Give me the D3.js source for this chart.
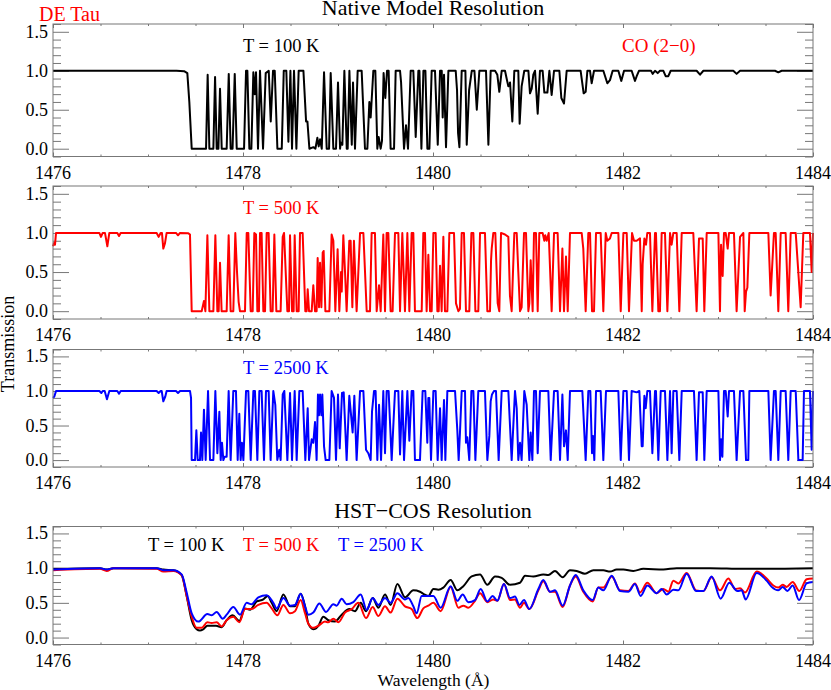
<!DOCTYPE html>
<html>
<head>
<meta charset="utf-8">
<script src="https://cdn.jsdelivr.net/npm/d3@7"></script>
<style>
  html, body { margin: 0; padding: 0; background: #fff; }
  text { font-family: "Liberation Serif", serif; }
</style>
</head>
<body>
<main></main>
<script>
// [wavelength, transmission]
const native100 = [[1476,1],[1477.3,1],[1477.38,.995],[1477.414,.97],[1477.435,.6],[1477.46,0],[1477.611,0],[1477.628,.95],[1477.646,0],[1477.688,0],[1477.706,.92],[1477.723,0],[1477.741,0],[1477.758,.77],[1477.776,0],[1477.828,0],[1477.85,.96],[1477.87,0],[1477.89,0],[1477.913,.96],[1477.934,0],[1478.011,0],[1478.032,1],[1478.046,1],[1478.067,0],[1478.088,0],[1478.109,.98],[1478.123,.7],[1478.137,.98],[1478.158,0],[1478.179,1],[1478.211,0],[1478.239,.97],[1478.271,1],[1478.292,.35],[1478.316,1],[1478.334,1],[1478.362,0],[1478.408,0],[1478.429,1],[1478.456,1],[1478.478,.09],[1478.499,1],[1478.516,0],[1478.537,1],[1478.562,0],[1478.586,1],[1478.636,1],[1478.664,.35],[1478.678,.35],[1478.699,0],[1478.741,.02],[1478.762,0],[1478.783,.14],[1478.797,.03],[1478.811,.12],[1478.829,0],[1478.853,.98],[1478.881,0],[1478.906,0],[1478.923,.97],[1478.951,0],[1478.979,0],[1479,.85],[1479.022,0],[1479.029,.08],[1479.046,.05],[1479.067,1],[1479.092,0],[1479.102,0],[1479.12,1],[1479.145,.05],[1479.158,.85],[1479.179,0],[1479.207,1],[1479.249,1],[1479.284,0],[1479.309,0],[1479.33,.6],[1479.344,.4],[1479.372,1],[1479.393,1],[1479.414,0],[1479.428,.15],[1479.449,0],[1479.463,.1],[1479.48,.97],[1479.498,.65],[1479.516,1],[1479.533,1],[1479.554,0],[1479.59,0],[1479.607,1],[1479.653,1],[1479.664,.85],[1479.695,0],[1479.716,.3],[1479.737,0],[1479.765,1],[1479.793,1],[1479.818,.15],[1479.846,1],[1479.857,1],[1479.878,0],[1479.899,1],[1479.92,1],[1479.941,0],[1479.962,0],[1479.986,1],[1480.021,1],[1480.05,.05],[1480.074,1],[1480.092,1],[1480.102,.4],[1480.116,.95],[1480.137,.02],[1480.162,1],[1480.239,1],[1480.253,.75],[1480.264,.2],[1480.278,.02],[1480.302,1],[1480.341,1],[1480.355,.05],[1480.38,.75],[1480.408,1],[1480.436,1],[1480.461,.5],[1480.488,1],[1480.558,1],[1480.583,.05],[1480.607,1],[1480.653,1],[1480.677,.95],[1480.698,.73],[1480.723,1],[1480.758,1],[1480.775,.9],[1480.793,.8],[1480.811,.85],[1480.835,.35],[1480.856,1],[1480.898,1],[1480.912,.32],[1480.933,.8],[1480.961,1],[1481.004,1],[1481.021,.71],[1481.039,.77],[1481.056,.95],[1481.074,1],[1481.102,.45],[1481.126,1],[1481.154,1],[1481.172,.72],[1481.204,.72],[1481.225,1],[1481.249,.69],[1481.274,1],[1481.33,1],[1481.351,.65],[1481.379,.58],[1481.407,1],[1481.554,1],[1481.586,.71],[1481.607,.73],[1481.625,1],[1481.653,1],[1481.67,.84],[1481.695,1],[1481.793,1],[1481.835,.84],[1481.863,.88],[1481.891,1],[1481.951,1],[1481.982,.87],[1482.011,1],[1482.091,1],[1482.126,.87],[1482.144,.93],[1482.168,1],[1482.295,1],[1482.312,.96],[1482.337,1],[1482.365,.97],[1482.389,1],[1482.425,1],[1482.449,.93],[1482.477,.93],[1482.502,1],[1482.775,1],[1482.811,.95],[1482.846,1],[1483.161,1],[1483.196,.96],[1483.232,1],[1483.6,1],[1483.635,.98],[1483.67,1],[1484,1]];

const native500 = [[1476,.83],[1476.011,.87],[1476.021,.85],[1476.032,1],[1476.488,1],[1476.505,.95],[1476.523,1],[1476.547,1],[1476.572,.83],[1476.593,1],[1476.677,1],[1476.695,.96],[1476.712,1],[1477.091,1],[1477.112,.95],[1477.133,1],[1477.147,1],[1477.161,.8],[1477.179,.87],[1477.196,1],[1477.295,1],[1477.316,.97],[1477.337,1],[1477.425,.995],[1477.442,.98],[1477.46,0],[1477.565,0],[1477.589,.13],[1477.604,0],[1477.625,.97],[1477.646,0],[1477.688,0],[1477.709,.97],[1477.73,0],[1477.744,0],[1477.758,.62],[1477.775,0],[1477.828,0],[1477.849,.97],[1477.87,0],[1477.898,0],[1477.919,1],[1477.937,.5],[1477.954,.12],[1477.968,0],[1478.021,0],[1478.039,1],[1478.056,1],[1478.081,0],[1478.102,0],[1478.119,1],[1478.137,.98],[1478.151,0],[1478.168,0],[1478.179,1],[1478.196,1],[1478.214,0],[1478.232,0],[1478.249,1],[1478.27,1],[1478.291,0],[1478.312,0],[1478.33,.98],[1478.351,0],[1478.396,0],[1478.418,.95],[1478.432,1],[1478.467,0],[1478.484,0],[1478.495,.97],[1478.516,0],[1478.533,0],[1478.544,.97],[1478.565,0],[1478.586,0],[1478.6,1],[1478.628,1],[1478.656,0],[1478.67,0],[1478.681,.28],[1478.695,0],[1478.723,0],[1478.74,.33],[1478.758,0],[1478.775,0],[1478.786,.68],[1478.8,.05],[1478.811,.62],[1478.825,.05],[1478.839,.75],[1478.849,.77],[1478.867,0],[1478.909,0],[1478.933,.98],[1478.951,.9],[1478.972,0],[1478.996,.79],[1479.014,0],[1479.032,.5],[1479.039,.25],[1479.056,.97],[1479.074,.5],[1479.091,0],[1479.119,.9],[1479.133,.9],[1479.151,.05],[1479.168,.9],[1479.196,0],[1479.232,1],[1479.267,1],[1479.302,0],[1479.337,0],[1479.354,1],[1479.389,1],[1479.407,0],[1479.432,.33],[1479.449,0],[1479.477,.98],[1479.495,0],[1479.512,1],[1479.53,1],[1479.554,0],[1479.575,0],[1479.6,1],[1479.635,1],[1479.653,0],[1479.677,1],[1479.705,0],[1479.73,1],[1479.751,0],[1479.775,1],[1479.793,1],[1479.81,0],[1479.881,0],[1479.898,1],[1479.916,1],[1479.933,0],[1479.951,.72],[1479.969,0],[1479.986,0],[1480.004,1],[1480.028,1],[1480.046,0],[1480.06,0],[1480.074,.58],[1480.091,0],[1480.109,.95],[1480.126,0],[1480.151,0],[1480.172,1],[1480.221,1],[1480.242,.1],[1480.267,0],[1480.284,.03],[1480.302,1],[1480.326,1],[1480.347,0],[1480.382,0],[1480.404,1],[1480.425,1],[1480.446,0],[1480.477,0],[1480.495,1],[1480.547,1],[1480.572,0],[1480.6,0],[1480.611,.65],[1480.618,.8],[1480.635,1],[1480.656,1],[1480.681,.1],[1480.698,0],[1480.716,1],[1480.758,.98],[1480.793,.95],[1480.81,.2],[1480.828,0],[1480.856,1],[1480.881,1],[1480.898,.5],[1480.916,0],[1480.933,.05],[1480.958,1],[1480.979,1],[1481.004,0],[1481.014,.1],[1481.028,.65],[1481.049,0],[1481.063,1],[1481.084,1],[1481.102,0],[1481.119,1],[1481.154,1],[1481.172,.9],[1481.182,.97],[1481.197,.9],[1481.218,1],[1481.249,0],[1481.274,1],[1481.312,1],[1481.337,0],[1481.362,.8],[1481.379,0],[1481.4,.7],[1481.418,0],[1481.442,1],[1481.565,1],[1481.582,.8],[1481.607,0],[1481.635,1],[1481.653,1],[1481.674,0],[1481.695,0],[1481.716,1],[1481.765,1],[1481.793,0],[1481.818,1],[1481.835,.9],[1481.863,.93],[1481.881,1],[1481.951,1],[1481.976,0],[1482.004,1],[1482.039,1],[1482.063,0],[1482.095,1],[1482.116,.9],[1482.144,.9],[1482.179,.93],[1482.197,0],[1482.207,.6],[1482.225,.93],[1482.242,.85],[1482.256,1],[1482.284,1],[1482.309,0],[1482.337,1],[1482.347,1],[1482.372,0],[1482.389,0],[1482.407,1],[1482.442,1],[1482.467,0],[1482.495,1],[1482.512,.85],[1482.53,1],[1482.565,1],[1482.593,0],[1482.618,1],[1482.74,1],[1482.775,0],[1482.8,.93],[1482.839,.93],[1482.856,0],[1482.881,1],[1483.004,1],[1483.021,0],[1483.032,.85],[1483.049,.45],[1483.063,1],[1483.081,1],[1483.102,.8],[1483.116,1],[1483.168,1],[1483.196,0],[1483.232,.95],[1483.267,1],[1483.281,0],[1483.295,.25],[1483.309,.3],[1483.33,1],[1483.53,1],[1483.554,.2],[1483.589,1],[1483.607,1],[1483.635,0],[1483.66,1],[1483.712,1],[1483.74,0],[1483.765,1],[1483.818,1],[1483.87,.05],[1483.898,1],[1483.968,1],[1483.986,.5],[1484,1]];

const native2500 = [[1476,.9],[1476.014,.92],[1476.032,1],[1476.488,1],[1476.509,.97],[1476.523,1],[1476.544,1],[1476.568,.88],[1476.593,1],[1476.677,1],[1476.695,.96],[1476.712,1],[1477.091,1],[1477.112,.97],[1477.133,1],[1477.144,1],[1477.161,.85],[1477.182,.92],[1477.196,1],[1477.295,1],[1477.316,.97],[1477.337,1],[1477.442,1],[1477.453,.9],[1477.46,0],[1477.495,0],[1477.509,.43],[1477.523,0],[1477.547,0],[1477.558,.4],[1477.572,0],[1477.589,.73],[1477.607,0],[1477.632,1],[1477.653,0],[1477.688,0],[1477.709,1],[1477.73,.1],[1477.751,.7],[1477.765,0],[1477.779,.25],[1477.793,0],[1477.807,.05],[1477.828,.05],[1477.849,1],[1477.87,0],[1477.898,1],[1477.926,1],[1477.944,0],[1477.961,.67],[1477.975,0],[1477.989,.25],[1478.004,0],[1478.032,1],[1478.056,1],[1478.081,0],[1478.109,1],[1478.126,1],[1478.151,0],[1478.172,1],[1478.196,1],[1478.221,0],[1478.242,1],[1478.27,1],[1478.291,0],[1478.319,1],[1478.34,.8],[1478.361,0],[1478.382,.15],[1478.396,0],[1478.418,.95],[1478.435,1],[1478.467,0],[1478.495,.97],[1478.516,0],[1478.544,1],[1478.565,0],[1478.593,1],[1478.628,1],[1478.656,0],[1478.681,.75],[1478.695,0],[1478.723,.3],[1478.74,.25],[1478.758,.55],[1478.775,0],[1478.789,.95],[1478.8,.65],[1478.811,.95],[1478.825,.65],[1478.835,.95],[1478.853,.2],[1478.87,0],[1478.909,0],[1478.933,1],[1478.958,.9],[1478.979,0],[1479,.95],[1479.018,.17],[1479.042,.97],[1479.06,.98],[1479.091,0],[1479.119,.93],[1479.154,.4],[1479.172,.93],[1479.196,0],[1479.232,1],[1479.267,1],[1479.295,.15],[1479.319,.1],[1479.344,0],[1479.358,.7],[1479.379,1],[1479.396,1],[1479.414,0],[1479.432,.8],[1479.453,0],[1479.477,1],[1479.495,.1],[1479.512,1],[1479.533,1],[1479.565,0],[1479.6,1],[1479.635,1],[1479.653,.08],[1479.677,1],[1479.695,0],[1479.73,1],[1479.751,.28],[1479.775,1],[1479.793,1],[1479.81,0],[1479.863,0],[1479.891,1],[1479.919,1],[1479.94,.25],[1479.951,.9],[1479.961,.9],[1479.979,0],[1480.004,1],[1480.028,1],[1480.049,0],[1480.074,.75],[1480.091,0],[1480.116,.87],[1480.13,0],[1480.151,1],[1480.232,1],[1480.256,.43],[1480.27,0],[1480.284,.4],[1480.302,1],[1480.337,1],[1480.347,.25],[1480.361,.33],[1480.382,0],[1480.404,1],[1480.425,1],[1480.446,0],[1480.477,1],[1480.547,1],[1480.572,0],[1480.593,.35],[1480.607,.85],[1480.621,.95],[1480.642,1],[1480.663,1],[1480.691,0],[1480.723,1],[1480.793,1],[1480.828,0],[1480.863,1],[1480.881,.75],[1480.898,0],[1480.916,.25],[1480.933,0],[1480.961,1],[1480.986,.8],[1481.014,0],[1481.028,.4],[1481.046,0],[1481.063,1],[1481.084,1],[1481.102,.1],[1481.126,1],[1481.214,1],[1481.239,0],[1481.274,1],[1481.312,1],[1481.337,0],[1481.362,.95],[1481.379,.2],[1481.4,.43],[1481.418,0],[1481.442,1],[1481.572,1],[1481.607,0],[1481.635,1],[1481.656,1],[1481.674,.1],[1481.684,.35],[1481.698,0],[1481.716,1],[1481.765,1],[1481.793,0],[1481.821,1],[1481.951,1],[1481.976,0],[1482.004,1],[1482.039,1],[1482.063,0],[1482.091,1],[1482.144,.98],[1482.172,1],[1482.197,.2],[1482.207,.2],[1482.225,.93],[1482.239,.75],[1482.256,1],[1482.284,1],[1482.309,.1],[1482.337,1],[1482.347,1],[1482.372,0],[1482.397,1],[1482.442,1],[1482.467,0],[1482.495,1],[1482.512,.1],[1482.53,1],[1482.565,1],[1482.593,0],[1482.618,1],[1482.747,1],[1482.775,0],[1482.8,.98],[1482.839,.98],[1482.856,0],[1482.881,1],[1483.004,1],[1483.021,0],[1483.032,.3],[1483.046,.05],[1483.063,1],[1483.081,1],[1483.102,.63],[1483.116,1],[1483.168,1],[1483.196,0],[1483.232,1],[1483.267,1],[1483.295,0],[1483.319,0],[1483.33,1],[1483.53,1],[1483.554,0],[1483.589,1],[1483.607,1],[1483.635,0],[1483.66,1],[1483.712,1],[1483.74,0],[1483.765,1],[1483.818,1],[1483.846,0],[1483.891,0],[1483.905,1],[1483.968,1],[1483.986,.15],[1484,1]];

const cos100 = [[1476,.99],[1476.495,1],[1476.565,.98],[1476.635,1],[1477.091,1],[1477.161,.98],[1477.267,.97],[1477.354,.9],[1477.407,.6],[1477.46,.25],[1477.512,.12],[1477.547,.1],[1477.582,.12],[1477.625,.17],[1477.67,.17],[1477.716,.17],[1477.775,.15],[1477.828,.25],[1477.891,.32],[1477.961,.24],[1478.021,.42],[1478.074,.4],[1478.144,.52],[1478.214,.55],[1478.26,.6],[1478.302,.5],[1478.354,.38],[1478.425,.62],[1478.495,.45],[1478.547,.45],[1478.607,.63],[1478.653,.45],[1478.688,.2],[1478.74,.12],[1478.793,.17],[1478.846,.3],[1478.898,.25],[1478.968,.23],[1479.039,.33],[1479.119,.41],[1479.179,.38],[1479.239,.5],[1479.295,.38],[1479.365,.57],[1479.425,.43],[1479.495,.62],[1479.554,.47],[1479.625,.77],[1479.705,.58],[1479.793,.68],[1479.863,.66],[1479.898,.63],[1479.951,.6],[1480.004,.7],[1480.056,.69],[1480.109,.72],[1480.186,.83],[1480.256,.68],[1480.319,.74],[1480.407,.88],[1480.495,.91],[1480.572,.76],[1480.653,.88],[1480.723,.86],[1480.811,.76],[1480.916,.79],[1480.969,.89],[1481.056,.88],[1481.161,.91],[1481.214,.9],[1481.284,.96],[1481.365,.87],[1481.442,.97],[1481.512,.96],[1481.6,.92],[1481.688,.97],[1481.793,.97],[1481.863,.95],[1481.933,.98],[1482.004,.98],[1482.109,.96],[1482.214,.99],[1482.425,.98],[1482.565,1],[1482.916,1],[1483.267,.99],[1484,1]];

const cos500 = [[1476,.97],[1476.495,.99],[1476.565,.96],[1476.635,1],[1477.091,.99],[1477.161,.95],[1477.267,.96],[1477.354,.9],[1477.407,.6],[1477.46,.3],[1477.512,.14],[1477.565,.14],[1477.625,.22],[1477.67,.21],[1477.723,.22],[1477.775,.16],[1477.828,.25],[1477.898,.3],[1477.961,.22],[1478.021,.41],[1478.091,.41],[1478.161,.47],[1478.249,.5],[1478.302,.42],[1478.361,.32],[1478.425,.47],[1478.495,.35],[1478.547,.38],[1478.607,.54],[1478.653,.35],[1478.688,.2],[1478.74,.14],[1478.793,.17],[1478.863,.23],[1478.898,.22],[1478.951,.27],[1479.004,.22],[1479.074,.36],[1479.144,.41],[1479.214,.5],[1479.295,.28],[1479.365,.44],[1479.425,.31],[1479.495,.45],[1479.554,.36],[1479.625,.56],[1479.705,.45],[1479.775,.41],[1479.835,.28],[1479.898,.42],[1479.951,.46],[1480.004,.5],[1480.081,.38],[1480.186,.73],[1480.267,.43],[1480.319,.46],[1480.372,.43],[1480.442,.53],[1480.495,.64],[1480.572,.51],[1480.635,.55],[1480.677,.53],[1480.747,.77],[1480.811,.54],[1480.863,.55],[1480.916,.43],[1480.958,.5],[1481.014,.41],[1481.109,.68],[1481.161,.81],[1481.232,.66],[1481.284,.66],[1481.365,.44],[1481.442,.75],[1481.502,.88],[1481.582,.66],[1481.681,.52],[1481.74,.72],[1481.793,.72],[1481.881,.88],[1481.969,.68],[1482.056,.67],[1482.126,.78],[1482.179,.65],[1482.256,.79],[1482.354,.64],[1482.425,.7],[1482.477,.66],[1482.53,.82],[1482.582,.78],[1482.67,.93],[1482.769,.68],[1482.846,.67],[1482.933,.87],[1483.021,.68],[1483.109,.85],[1483.179,.7],[1483.232,.71],[1483.284,.65],[1483.407,.95],[1483.512,.85],[1483.582,.75],[1483.635,.72],[1483.681,.76],[1483.723,.73],[1483.786,.8],[1483.856,.67],[1483.933,.84],[1484,.85]];

const cos2500 = [[1476,.98],[1476.495,1],[1476.565,.98],[1476.635,1],[1477.091,1],[1477.161,.97],[1477.267,.97],[1477.354,.91],[1477.407,.65],[1477.46,.35],[1477.53,.23],[1477.625,.34],[1477.67,.32],[1477.723,.37],[1477.786,.27],[1477.828,.33],[1477.898,.44],[1477.968,.33],[1478.039,.5],[1478.091,.48],[1478.161,.58],[1478.249,.61],[1478.319,.5],[1478.354,.42],[1478.425,.57],[1478.495,.46],[1478.547,.47],[1478.607,.63],[1478.653,.45],[1478.688,.33],[1478.74,.36],[1478.804,.49],[1478.874,.37],[1478.951,.48],[1478.986,.46],[1479.039,.56],[1479.091,.48],[1479.161,.51],[1479.239,.62],[1479.302,.4],[1479.365,.57],[1479.425,.47],[1479.495,.57],[1479.554,.5],[1479.625,.64],[1479.705,.55],[1479.74,.57],[1479.793,.45],[1479.828,.35],[1479.881,.6],[1479.933,.6],[1480.004,.6],[1480.081,.43],[1480.186,.74],[1480.256,.53],[1480.312,.62],[1480.372,.51],[1480.442,.54],[1480.502,.7],[1480.572,.52],[1480.628,.6],[1480.677,.53],[1480.747,.77],[1480.811,.57],[1480.863,.59],[1480.909,.47],[1480.958,.54],[1481.014,.41],[1481.109,.7],[1481.161,.83],[1481.232,.66],[1481.284,.68],[1481.365,.46],[1481.442,.75],[1481.502,.9],[1481.582,.68],[1481.681,.54],[1481.74,.72],[1481.793,.68],[1481.881,.89],[1481.969,.67],[1482.056,.66],[1482.126,.77],[1482.186,.6],[1482.256,.75],[1482.354,.64],[1482.407,.7],[1482.46,.62],[1482.53,.69],[1482.582,.68],[1482.67,.92],[1482.769,.67],[1482.846,.67],[1482.933,.88],[1483.028,.56],[1483.119,.79],[1483.204,.67],[1483.249,.68],[1483.291,.55],[1483.407,.93],[1483.512,.82],[1483.565,.73],[1483.635,.68],[1483.681,.73],[1483.73,.67],[1483.786,.75],[1483.853,.54],[1483.933,.78],[1484,.8]];

const xMajor = [1476, 1478, 1480, 1482, 1484];
const xMinor = [1476.5, 1477, 1477.5, 1478.5, 1479, 1479.5, 1480.5, 1481, 1481.5, 1482.5, 1483, 1483.5];
const yMajor = [0, 0.5, 1, 1.5];
const yMinor = [-0.1, 0.1, 0.2, 0.3, 0.4, 0.6, 0.7, 0.8, 0.9, 1.1, 1.2, 1.3, 1.4, 1.6];

const width = 831;
const height = 690;
const left = 53;
const right = 813;
const frameColor = "#777";

const svg = d3.select("main")
              .append("svg")
              .attr("width", width)
              .attr("height", height)
              .style("display", "block");

const x = d3.scaleLinear().domain([1476, 1484]).range([left, right]);

const addText = (str, px, py, size, color, anchor) => {
  return svg.append("text")
            .attr("x", px)
            .attr("y", py)
            .attr("font-size", size)
            .attr("fill", color)
            .attr("text-anchor", anchor || "start")
            .text(str);
};

// one boxed panel: frame, mirrored IDL style ticks, then its curves
const createPanel = (top, bottom, curves, curve) => {
  const y = d3.scaleLinear().domain([-0.1, 1.6]).range([bottom, top]);
  const g = svg.append("g");

  const ticks = (axis, values, size, offset) => {
    const a = g.append("g")
               .attr("transform", offset)
               .call(axis.tickValues(values).tickSize(size).tickSizeOuter(0).tickFormat(() => ""));
    a.select(".domain").remove();
    a.selectAll("line").attr("stroke", frameColor);
    return a;
  };

  const atLeft = "translate(" + left + ",0)";
  const atRight = "translate(" + right + ",0)";
  const atTop = "translate(0," + top + ")";
  const atBottom = "translate(0," + bottom + ")";

  ticks(d3.axisRight(y), yMajor, 16, atLeft);
  ticks(d3.axisRight(y), yMinor, 8, atLeft);
  ticks(d3.axisLeft(y), yMajor, 16, atRight);
  ticks(d3.axisLeft(y), yMinor, 8, atRight);
  ticks(d3.axisBottom(x), xMajor, 4, atTop);
  ticks(d3.axisBottom(x), xMinor, 2, atTop);
  ticks(d3.axisTop(x), xMajor, 4, atBottom);
  ticks(d3.axisTop(x), xMinor, 2, atBottom);

  // tick labels sit outside the frame
  xMajor.forEach(v => addText(String(v), x(v), bottom + 22, 18, "#000", "middle"));
  yMajor.forEach(v => addText(v.toFixed(1), left - 5, y(v) + 6, 18, "#000", "end"));

  const line = d3.line().x(d => x(d[0])).y(d => y(d[1])).curve(curve);
  curves.forEach(c => {
    g.append("path")
     .attr("d", line(c.values))
     .attr("fill", "none")
     .attr("stroke", c.color)
     .attr("stroke-width", 2)
     .attr("stroke-linejoin", "round");
  });

  g.append("rect")
   .attr("x", left)
   .attr("y", top)
   .attr("width", right - left)
   .attr("height", bottom - top)
   .attr("fill", "none")
   .attr("stroke", frameColor);
};

createPanel(24, 156.5, [{values: native100, color: "#000"}], d3.curveLinear);
createPanel(186, 319, [{values: native500, color: "#f00"}], d3.curveLinear);
createPanel(349.5, 467, [{values: native2500, color: "#00f"}], d3.curveLinear);
createPanel(526.5, 644.5, [
  {values: cos100, color: "#000"},
  {values: cos500, color: "#f00"},
  {values: cos2500, color: "#00f"}
], d3.curveMonotoneX);

addText("Native Model Resolution", 433, 15, 22, "#000", "middle");
addText("HST\u2212COS Resolution", 433, 518, 22, "#000", "middle");
addText("DE Tau", 39, 21, 20, "#f00");
addText("T = 100 K", 243, 52, 18.5, "#000");
addText("CO (2\u22120)", 622, 52, 19, "#f00");
addText("T = 500 K", 243, 214, 18.5, "#f00");
addText("T = 2500 K", 243, 374, 18.5, "#00f");
addText("T = 100 K", 148, 551, 18.5, "#000");
addText("T = 500 K", 243, 551, 18.5, "#f00");
addText("T = 2500 K", 338, 551, 18.5, "#00f");
addText("Wavelength (\u00c5)", 433.5, 686, 17.5, "#000", "middle");

svg.append("text")
   .attr("transform", "translate(14,344) rotate(-90)")
   .attr("text-anchor", "middle")
   .attr("font-size", 18)
   .text("Transmission");
</script>
</body>
</html>
